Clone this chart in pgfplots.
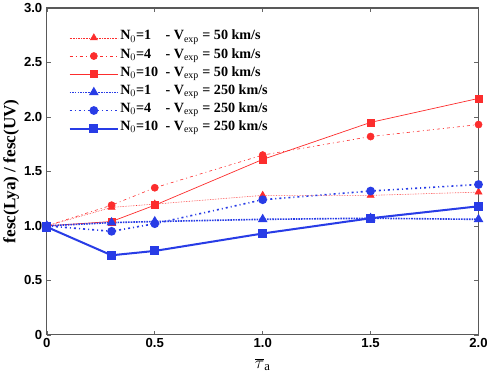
\documentclass[border=0pt]{standalone}
\usepackage{pgfplots}
\pgfplotsset{compat=1.18}
\usepackage{fontspec}
\setmainfont{Liberation Serif}
\newfontfamily\sansb{Liberation Sans}
\definecolor{myred}{RGB}{252,45,45}
\definecolor{myblue}{RGB}{40,60,230}
\begin{document}
\begin{tikzpicture}
\begin{axis}[
  width=428pt, height=324pt, scale only axis,
  xmin=0, xmax=2, ymin=0, ymax=3,
  xtick={0,0.5,1,1.5,2}, xticklabels={0,0.5,1.0,1.5,2.0},
  ytick={0,0.5,1,1.5,2,2.5,3}, yticklabels={0,0.5,1.0,1.5,2.0,2.5,3.0},
  tick label style={font=\sansb\bfseries\fontsize{13}{14}\selectfont},
  yticklabel style={xshift=-1pt},
  tick align=inside, major tick length=4pt,
  axis line style={draw=black!65, line width=1.2pt},
  tick style={black!60, line width=0.6pt},
  xlabel={\fontsize{18}{18}\selectfont $\overline{\tau}_{\mathrm{a}}$},
  ylabel={\bfseries\fontsize{17}{17}\selectfont fesc(Lya) / fesc(UV)},
  xlabel style={yshift=-4pt},
  ylabel style={yshift=-2pt},
  legend style={draw=none, fill=none, at={(rel axis cs:0.05,0.937)}, anchor=north west,
    font=\bfseries\fontsize{14}{15}\selectfont, row sep=0pt, inner sep=0pt,
    nodes={text height=11pt, text depth=7pt, inner xsep=1.2pt, inner ysep=0pt}},
  legend cell align=left,
  legend image code/.code={\draw[#1] (0pt,0pt) -- (48pt,0pt); \draw[#1,solid] plot coordinates {(24pt,0pt)};},
]
\addplot[myred, densely dotted, line width=0.6pt, mark=triangle*, mark size=4pt, mark options={solid}]
  coordinates {(0,1.0) (0.3,1.17) (0.5,1.20) (1.0,1.28) (1.5,1.28) (2.0,1.31)};
\addlegendentry{\makebox[45pt][l]{N$_0$=1}- V$_{\mathrm{exp}}$ = 50 km/s}
\addplot[myred, dash pattern=on 3pt off 3pt on 1pt off 3pt, line width=0.6pt, mark=*, mark size=3.5pt, mark options={solid}]
  coordinates {(0,1.0) (0.3,1.19) (0.5,1.35) (1.0,1.65) (1.5,1.82) (2.0,1.93)};
\addlegendentry{\makebox[45pt][l]{N$_0$=4}- V$_{\mathrm{exp}}$ = 50 km/s}
\addplot[myred, solid, line width=0.7pt, mark=square*, mark size=3.5pt]
  coordinates {(0,1.0) (0.3,1.04) (0.5,1.19) (1.0,1.61) (1.5,1.95) (2.0,2.17)};
\addlegendentry{\makebox[45pt][l]{N$_0$=10}- V$_{\mathrm{exp}}$ = 50 km/s}
\addplot[myblue, densely dotted, line width=1.6pt, mark=triangle*, mark size=4pt, mark options={solid}]
  coordinates {(0,1.0) (0.3,1.03) (0.5,1.04) (1.0,1.06) (1.5,1.07) (2.0,1.06)};
\addlegendentry{\makebox[45pt][l]{N$_0$=1}- V$_{\mathrm{exp}}$ = 250 km/s}
\addplot[myblue, dash pattern=on 2pt off 3pt on 1pt off 3pt, line width=1.6pt, mark=*, mark size=3.5pt, mark options={solid}]
  coordinates {(0,1.0) (0.3,0.95) (0.5,1.02) (1.0,1.24) (1.5,1.32) (2.0,1.38)};
\addlegendentry{\makebox[45pt][l]{N$_0$=4}- V$_{\mathrm{exp}}$ = 250 km/s}
\addplot[myblue, solid, line width=2pt, mark=square*, mark size=3.5pt]
  coordinates {(0,0.99) (0.3,0.73) (0.5,0.77) (1.0,0.93) (1.5,1.07) (2.0,1.18)};
\addlegendentry{\makebox[45pt][l]{N$_0$=10}- V$_{\mathrm{exp}}$ = 250 km/s}
\end{axis}
\end{tikzpicture}
\end{document}
